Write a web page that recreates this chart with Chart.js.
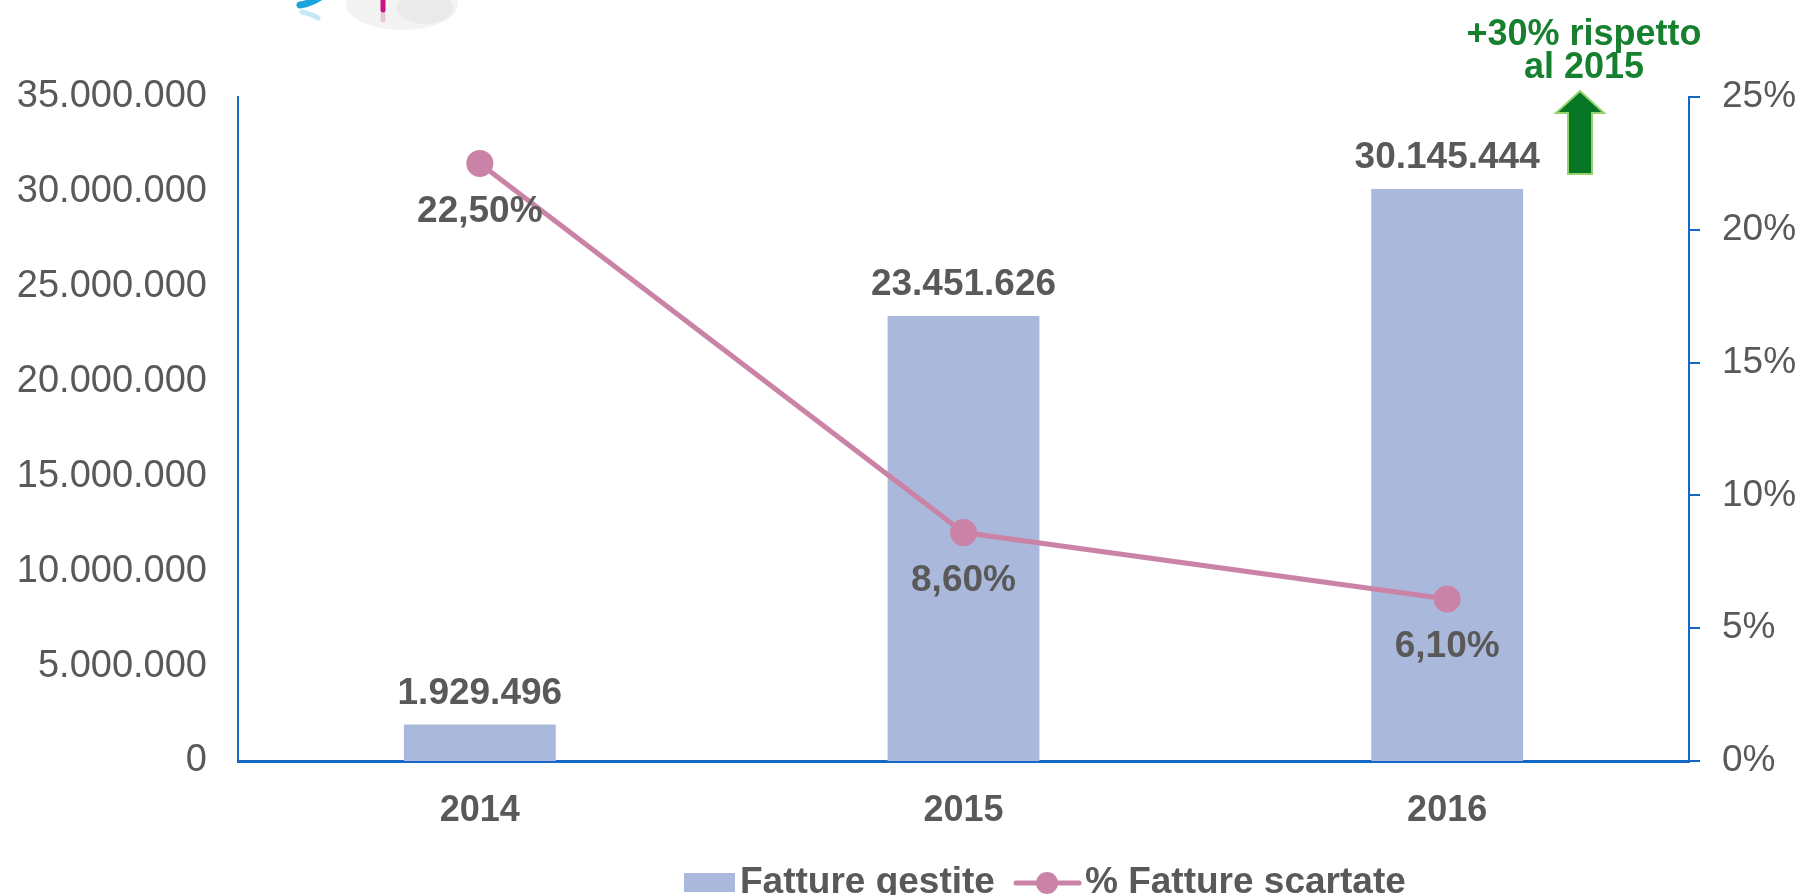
<!DOCTYPE html>
<html>
<head>
<meta charset="utf-8">
<style>
  html, body { margin: 0; padding: 0; background: #ffffff; overflow: hidden; }
  #wrap { width: 1800px; height: 895px; position: relative; }
</style>
<script src="https://cdn.jsdelivr.net/npm/chart.js@4.4.1/dist/chart.umd.min.js"></script>
</head>
<body>
<div id="wrap"><canvas id="c" width="1800" height="895"></canvas></div>
<script>
// ---- data ----
const years = ['2014', '2015', '2016'];
const fattureGestite = [1929496, 23451626, 30145444];
const fattureScartatePct = [22.5, 8.6, 6.1];
const seriesLabels = ['Fatture gestite', '% Fatture scartate'];
const annotationLines = ['+30% rispetto', 'al 2015'];
const leftAxisMax = 35000000;
const leftAxisStep = 5000000;
const rightAxisMax = 25;
const rightAxisStep = 5;

// ---- style ----
const FONT = "'Liberation Sans', Arial, Helvetica, sans-serif";
const TEXT = '#595959';
const AXIS = '#1668C6';
const BAR = '#AAB8DB';
const LINE = '#CA83A7';
const GREEN = '#17802F';

function fmtInt(v) {
  return String(Math.round(v)).replace(/\B(?=(\d{3})+(?!\d))/g, '.');
}
function fmtPct(v) {
  return v.toFixed(2).replace('.', ',') + '%';
}

const labelsPlugin = {
  id: 'valueLabels',
  afterDatasetsDraw(chart) {
    const ctx = chart.ctx;
    ctx.save();
    ctx.font = 'bold 37px ' + FONT;
    ctx.fillStyle = TEXT;
    ctx.textAlign = 'center';
    ctx.textBaseline = 'middle';
    const barMeta = chart.getDatasetMeta(0);
    barMeta.data.forEach((el, i) => {
      ctx.fillText(fmtInt(chart.data.datasets[0].data[i]), el.x, el.y - 31);
    });
    const lineMeta = chart.getDatasetMeta(1);
    lineMeta.data.forEach((el, i) => {
      ctx.fillText(fmtPct(chart.data.datasets[1].data[i]), el.x, el.y + 48);
    });
    ctx.restore();
  }
};

const decorPlugin = {
  id: 'decor',
  afterDraw(chart) {
    const ctx = chart.ctx;
    ctx.save();
    // --- partial logo at the top (cropped) ---
    ctx.fillStyle = '#F3F3F3';
    ctx.beginPath();
    ctx.ellipse(402, 4, 56, 26, 0, 0, Math.PI * 2);
    ctx.fill();
    ctx.fillStyle = '#EAEAEA';
    ctx.beginPath();
    ctx.ellipse(425, 8, 28, 16, 0, 0, Math.PI * 2);
    ctx.fill();
    ctx.strokeStyle = '#C8157F';
    ctx.lineWidth = 5;
    ctx.lineCap = 'round';
    ctx.beginPath();
    ctx.moveTo(383, 0);
    ctx.lineTo(383, 10);
    ctx.stroke();
    ctx.strokeStyle = 'rgba(200,21,127,0.2)';
    ctx.beginPath();
    ctx.moveTo(383, 14);
    ctx.lineTo(383, 20);
    ctx.stroke();
    ctx.strokeStyle = '#1BA3DC';
    ctx.lineWidth = 7;
    ctx.beginPath();
    ctx.moveTo(300, 5);
    ctx.quadraticCurveTo(312, 3, 322, -4);
    ctx.stroke();
    ctx.strokeStyle = 'rgba(27,163,220,0.25)';
    ctx.lineWidth = 5;
    ctx.beginPath();
    ctx.moveTo(302, 12);
    ctx.quadraticCurveTo(312, 14, 318, 18);
    ctx.stroke();

    // --- green annotation ---
    ctx.fillStyle = GREEN;
    ctx.font = 'bold 36px ' + FONT;
    ctx.textAlign = 'center';
    ctx.textBaseline = 'middle';
    ctx.fillText(annotationLines[0], 1584, 35);
    ctx.fillText(annotationLines[1], 1584, 68);

    // arrow
    ctx.beginPath();
    ctx.moveTo(1580, 91);
    ctx.lineTo(1604, 113);
    ctx.lineTo(1592, 113);
    ctx.lineTo(1592, 174);
    ctx.lineTo(1568, 174);
    ctx.lineTo(1568, 113);
    ctx.lineTo(1556, 113);
    ctx.closePath();
    ctx.fillStyle = '#077624';
    ctx.fill();
    ctx.strokeStyle = '#92D36B';
    ctx.lineWidth = 2;
    ctx.lineJoin = 'miter';
    ctx.stroke();

    // --- legend (from datasets) ---
    const ds = chart.data.datasets;
    const cy = 883;
    ctx.font = 'bold 37px ' + FONT;
    ctx.textAlign = 'left';
    ctx.textBaseline = 'middle';
    ctx.fillStyle = ds[0].backgroundColor;
    ctx.fillRect(684, cy - 10, 51, 19);
    ctx.fillStyle = TEXT;
    ctx.fillText(ds[0].label, 740, cy);
    ctx.strokeStyle = ds[1].borderColor;
    ctx.lineWidth = 5;
    ctx.beginPath();
    ctx.moveTo(1016, cy);
    ctx.lineTo(1079, cy);
    ctx.stroke();
    ctx.fillStyle = ds[1].borderColor;
    ctx.beginPath();
    ctx.arc(1047, cy, 11, 0, Math.PI * 2);
    ctx.fill();
    ctx.fillStyle = TEXT;
    ctx.fillText(ds[1].label, 1085, cy);
    ctx.restore();
  }
};

new Chart(document.getElementById('c'), {
  data: {
    labels: years,
    datasets: [
      {
        type: 'bar',
        label: seriesLabels[0],
        data: fattureGestite,
        backgroundColor: BAR,
        borderWidth: 0,
        barPercentage: 0.314,
        categoryPercentage: 1.0,
        yAxisID: 'y',
        order: 2
      },
      {
        type: 'line',
        label: seriesLabels[1],
        data: fattureScartatePct,
        borderColor: LINE,
        backgroundColor: LINE,
        borderWidth: 5,
        pointRadius: 11,
        pointHoverRadius: 11,
        pointBackgroundColor: LINE,
        pointBorderColor: LINE,
        tension: 0,
        yAxisID: 'y1',
        order: 1
      }
    ]
  },
  options: {
    responsive: false,
    animation: false,
    devicePixelRatio: 1,
    layout: { padding: { top: 97, left: 0, right: 0, bottom: 0 } },
    plugins: {
      legend: { display: false },
      tooltip: { enabled: false },
      title: { display: false }
    },
    scales: {
      x: {
        grid: { display: false, drawTicks: false },
        border: { display: true, color: AXIS, width: 3 },
        ticks: {
          color: TEXT,
          font: { family: FONT, size: 36, weight: 'bold' },
          padding: 28
        },
        afterFit(scale) { scale.height = 134; }
      },
      y: {
        position: 'left',
        min: 0,
        max: leftAxisMax,
        grid: { display: false, drawTicks: false },
        border: { display: true, color: AXIS, width: 2 },
        ticks: {
          stepSize: leftAxisStep,
          color: TEXT,
          font: { family: FONT, size: 38 },
          padding: 31,
          callback: (v) => fmtInt(v)
        },
        afterFit(scale) { scale.width = 238; }
      },
      y1: {
        position: 'right',
        min: 0,
        max: rightAxisMax,
        grid: {
          display: true,
          drawOnChartArea: false,
          drawTicks: true,
          tickLength: 11,
          color: AXIS,
          lineWidth: 2
        },
        border: { display: true, color: AXIS, width: 2 },
        ticks: {
          stepSize: rightAxisStep,
          color: TEXT,
          font: { family: FONT, size: 37 },
          padding: 22,
          callback: (v) => v + '%'
        },
        afterFit(scale) { scale.width = 111; }
      }
    }
  },
  plugins: [labelsPlugin, decorPlugin]
});
</script>
</body>
</html>
